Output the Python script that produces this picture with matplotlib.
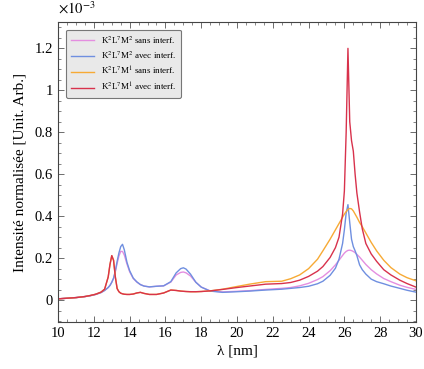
import matplotlib
matplotlib.use("Agg")
import matplotlib.pyplot as plt
from matplotlib.ticker import MultipleLocator, FixedLocator

plt.rcParams['font.family'] = ['Liberation Serif', 'DejaVu Serif']
plt.rcParams['mathtext.fontset'] = 'stix'

# wavelength grid (nm)
lam = [10, 10.5, 11, 11.5, 11.8, 12.1, 12.4, 12.6, 12.8, 12.9, 13.0, 13.1, 13.2, 13.3,
       13.4, 13.5, 13.6, 13.7, 13.85, 14.0, 14.2, 14.4, 14.6, 14.8, 15.1, 15.5, 15.9,
       16.3, 16.6, 16.85, 17.0, 17.15, 17.4, 17.7, 18.0, 18.5, 19.2, 20.0, 20.7, 21.6,
       22.5, 23.0, 23.5, 24.0, 24.5, 24.8, 25.2, 25.5, 25.7, 25.9, 26.0, 26.1, 26.2,
       26.3, 26.4, 26.5, 26.6, 26.7, 26.85, 27.0, 27.2, 27.5, 27.8, 28.2, 28.6, 29.1,
       29.5, 30.0]

# K2L7M2 sans interf. (x1e-3)
m2_sans = [0.006, 0.009, 0.012, 0.017, 0.021, 0.027, 0.036, 0.046, 0.060, 0.070, 0.085,
           0.103, 0.135, 0.175, 0.210, 0.232, 0.232, 0.215, 0.172, 0.135, 0.103, 0.086,
           0.074, 0.067, 0.063, 0.066, 0.068, 0.086, 0.120, 0.132, 0.134, 0.130, 0.115,
           0.085, 0.062, 0.044, 0.039, 0.042, 0.045, 0.051, 0.056, 0.060, 0.068, 0.080,
           0.098, 0.112, 0.140, 0.168, 0.190, 0.213, 0.224, 0.232, 0.237, 0.238, 0.236,
           0.232, 0.226, 0.218, 0.205, 0.190, 0.170, 0.145, 0.125, 0.103, 0.088, 0.071,
           0.061, 0.051]

# K2L7M2 avec interf.
m2_avec = [0.006, 0.009, 0.012, 0.017, 0.021, 0.027, 0.036, 0.046, 0.060, 0.070, 0.085,
           0.105, 0.140, 0.185, 0.225, 0.255, 0.266, 0.240, 0.180, 0.140, 0.105, 0.087,
           0.074, 0.067, 0.063, 0.066, 0.068, 0.088, 0.130, 0.150, 0.154, 0.148, 0.124,
           0.085, 0.062, 0.043, 0.037, 0.040, 0.043, 0.048, 0.052, 0.056, 0.060, 0.066,
           0.078, 0.090, 0.118, 0.152, 0.195, 0.270, 0.335, 0.415, 0.455, 0.370, 0.290,
           0.255, 0.235, 0.212, 0.168, 0.145, 0.124, 0.100, 0.088, 0.078, 0.067, 0.056,
           0.047, 0.038]

# K2L7M1 sans interf.
m1_sans = [0.006, 0.009, 0.012, 0.017, 0.022, 0.028, 0.038, 0.052, 0.110, 0.170, 0.212,
           0.190, 0.110, 0.055, 0.040, 0.033, 0.030, 0.028, 0.027, 0.027, 0.029, 0.034,
           0.037, 0.032, 0.027, 0.027, 0.034, 0.048, 0.046, 0.043, 0.042, 0.041, 0.040,
           0.040, 0.041, 0.044, 0.052, 0.065, 0.076, 0.088, 0.090, 0.102, 0.120, 0.150,
           0.195, 0.235, 0.290, 0.335, 0.365, 0.395, 0.410, 0.422, 0.432, 0.437, 0.435,
           0.425, 0.410, 0.395, 0.370, 0.350, 0.320, 0.275, 0.235, 0.190, 0.155, 0.124,
           0.107, 0.092]

# K2L7M1 avec interf.
m1_avec = [0.006, 0.009, 0.012, 0.017, 0.022, 0.028, 0.038, 0.052, 0.110, 0.170, 0.212,
           0.190, 0.110, 0.055, 0.040, 0.033, 0.030, 0.028, 0.027, 0.027, 0.029, 0.034,
           0.037, 0.032, 0.027, 0.027, 0.034, 0.048, 0.046, 0.043, 0.042, 0.041, 0.040,
           0.040, 0.041, 0.044, 0.051, 0.060, 0.067, 0.076, 0.079, 0.084, 0.095, 0.113,
           0.138, 0.160, 0.203, 0.250, 0.300, 0.410, 0.520, 0.800, 1.200, 0.850, 0.760,
           0.710, 0.600, 0.510, 0.420, 0.340, 0.270, 0.220, 0.185, 0.145, 0.120, 0.095,
           0.079, 0.062]

labels = [r'K$^2$L$^7$M$^2$ sans interf.', r'K$^2$L$^7$M$^2$ avec interf.',
          r'K$^2$L$^7$M$^1$ sans interf.', r'K$^2$L$^7$M$^1$ avec interf.']
colors = ['#e48ee0', '#6f8fe0', '#f7aa35', '#d8324c']
series = [m2_sans, m2_avec, m1_sans, m1_avec]

fig = plt.figure(figsize=(4.24, 3.69), dpi=100)
ax = fig.add_axes([0.137, 0.127, 0.844, 0.813])

for s, c, l in zip(series, colors, labels):
    ax.plot(lam, s, color=c, lw=1.0, label=l)

ax.set_xlim(10, 30)
ax.set_ylim(-0.105, 1.325)
ax.xaxis.set_major_locator(MultipleLocator(2))
ax.xaxis.set_minor_locator(MultipleLocator(0.5))
ax.yaxis.set_major_locator(FixedLocator([0, 0.2, 0.4, 0.6, 0.8, 1.0, 1.2]))
ax.yaxis.set_minor_locator(MultipleLocator(0.05))
ax.set_yticklabels(['0', '0.2', '0.4', '0.6', '0.8', '1', '1.2'])
ax.tick_params(which='both', direction='in', top=True, right=True, labelsize=10.5,
               color='#555555')
ax.tick_params(which='major', length=4, width=0.6)
ax.tick_params(which='minor', length=2, width=0.5)
for sp in ax.spines.values():
    sp.set_linewidth(0.8)
    sp.set_color('#444444')

ax.set_xlabel('λ [nm]', fontsize=11, labelpad=3)
ax.set_ylabel('Intensité normalisée [Unit. Arb.]', fontsize=11, labelpad=6)
ax.text(0.0, 1.02, r'$\times10^{-3}$', transform=ax.transAxes, fontsize=10.5,
        ha='left', va='bottom')

leg = ax.legend(loc='upper left', fontsize=6.5, frameon=True, fancybox=True,
                handlelength=2.6, borderpad=0.5, labelspacing=0.45,
                bbox_to_anchor=(0.01, 0.99), shadow=False)
leg.get_frame().set_facecolor('#e9e9e9')
leg.get_frame().set_edgecolor('#777777')
leg.get_frame().set_alpha(1.0)
leg.get_frame().set_linewidth(0.8)

fig.savefig('out.png', dpi=100)
